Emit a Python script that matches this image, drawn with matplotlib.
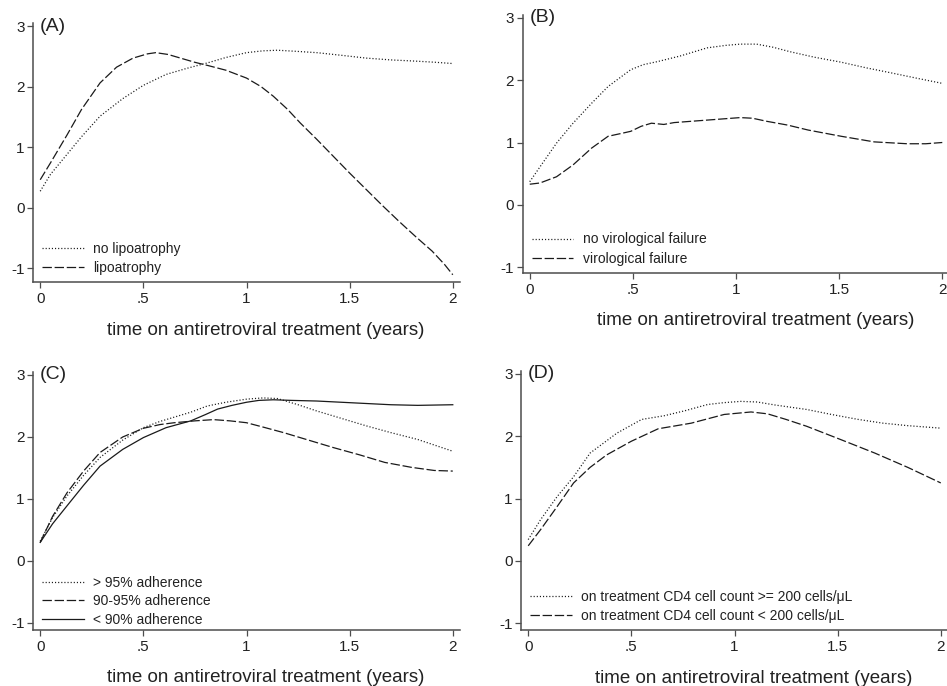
import matplotlib
matplotlib.use("Agg")
import matplotlib.pyplot as plt

plt.rcParams["font.family"] = ["Liberation Sans", "DejaVu Sans"]
plt.rcParams["axes.unicode_minus"] = False

W, H = 947, 686

# panel A
a_x_nolipo = [0.0, 0.05, 0.13, 0.2, 0.29, 0.4, 0.5, 0.61, 0.71, 0.81, 0.9, 1.0, 1.08, 1.15, 1.25, 1.34, 1.45, 1.58, 1.7, 1.82, 1.92, 2.0]
a_y_nolipo = [0.27, 0.55, 0.88, 1.17, 1.51, 1.8, 2.02, 2.2, 2.3, 2.39, 2.48, 2.56, 2.59, 2.6, 2.58, 2.56, 2.52, 2.47, 2.44, 2.42, 2.4, 2.38]
a_x_lipo = [0.0, 0.05, 0.13, 0.2, 0.29, 0.37, 0.45, 0.52, 0.56, 0.62, 0.69, 0.75, 0.81, 0.9, 1.0, 1.07, 1.13, 1.2, 1.26, 1.34, 1.42, 1.5, 1.58, 1.66, 1.74, 1.82, 1.9, 1.96, 2.0]
a_y_lipo = [0.46, 0.74, 1.2, 1.62, 2.06, 2.32, 2.47, 2.54, 2.56, 2.53, 2.46, 2.4, 2.35, 2.27, 2.14, 2.0, 1.84, 1.62, 1.4, 1.13, 0.85, 0.57, 0.3, 0.03, -0.23, -0.48, -0.72, -0.94, -1.11]

# panel B
b_x_novf = [0.0, 0.05, 0.13, 0.21, 0.3, 0.38, 0.49, 0.55, 0.62, 0.73, 0.86, 0.95, 1.02, 1.1, 1.18, 1.26, 1.38, 1.51, 1.63, 1.75, 1.88, 2.0]
b_y_novf = [0.37, 0.61, 0.99, 1.31, 1.63, 1.9, 2.17, 2.25, 2.3, 2.39, 2.52, 2.56, 2.58, 2.58, 2.53, 2.46, 2.37, 2.29, 2.2, 2.12, 2.03, 1.95]
b_x_vf = [0.0, 0.05, 0.13, 0.21, 0.3, 0.38, 0.45, 0.49, 0.54, 0.59, 0.65, 0.7, 0.86, 1.02, 1.08, 1.15, 1.25, 1.35, 1.51, 1.67, 1.83, 1.92, 2.0]
b_y_vf = [0.33, 0.35, 0.45, 0.64, 0.91, 1.1, 1.15, 1.18, 1.26, 1.31, 1.29, 1.32, 1.36, 1.4, 1.39, 1.34, 1.28, 1.2, 1.1, 1.01, 0.98, 0.98, 1.0]

# panel C
c_x_gt95 = [0.0, 0.06, 0.13, 0.21, 0.29, 0.4, 0.5, 0.58, 0.66, 0.73, 0.81, 0.9, 1.0, 1.08, 1.15, 1.25, 1.34, 1.46, 1.58, 1.7, 1.83, 2.0]
c_y_gt95 = [0.32, 0.7, 1.05, 1.38, 1.67, 1.95, 2.15, 2.25, 2.33, 2.4, 2.5, 2.56, 2.61, 2.63, 2.62, 2.52, 2.42, 2.3, 2.18, 2.07, 1.96, 1.77]
c_x_9095 = [0.0, 0.06, 0.13, 0.21, 0.29, 0.4, 0.5, 0.58, 0.65, 0.75, 0.84, 0.92, 1.0, 1.08, 1.18, 1.3, 1.42, 1.55, 1.67, 1.8, 1.91, 2.0]
c_y_9095 = [0.3, 0.72, 1.1, 1.45, 1.75, 2.0, 2.14, 2.2, 2.23, 2.26, 2.28, 2.26, 2.23, 2.16, 2.07, 1.95, 1.83, 1.71, 1.59, 1.51, 1.46, 1.45]
c_x_lt90 = [0.0, 0.06, 0.13, 0.21, 0.29, 0.4, 0.5, 0.61, 0.73, 0.8, 0.86, 0.93, 1.0, 1.06, 1.13, 1.22, 1.34, 1.46, 1.58, 1.7, 1.83, 2.0]
c_y_lt90 = [0.3, 0.6, 0.89, 1.22, 1.53, 1.8, 1.99, 2.15, 2.26, 2.36, 2.45, 2.51, 2.56, 2.59, 2.6, 2.59, 2.58, 2.56, 2.54, 2.52, 2.51, 2.52]

# panel D
d_x_ge200 = [0.0, 0.06, 0.14, 0.22, 0.3, 0.43, 0.55, 0.66, 0.76, 0.87, 0.95, 1.03, 1.11, 1.2, 1.35, 1.47, 1.6, 1.72, 1.84, 2.0]
d_y_ge200 = [0.34, 0.66, 1.03, 1.35, 1.73, 2.05, 2.27, 2.33, 2.41, 2.51, 2.54, 2.56, 2.55, 2.5, 2.43, 2.35, 2.27, 2.21, 2.17, 2.13]
d_x_lt200 = [0.0, 0.06, 0.14, 0.22, 0.3, 0.38, 0.5, 0.63, 0.79, 0.95, 1.08, 1.16, 1.25, 1.35, 1.52, 1.68, 1.84, 2.0]
d_y_lt200 = [0.24, 0.5, 0.87, 1.25, 1.5, 1.7, 1.92, 2.12, 2.21, 2.35, 2.39, 2.36, 2.27, 2.16, 1.94, 1.73, 1.5, 1.25]

x_ticks = [0, 0.5, 1, 1.5, 2]
x_ticklabels = ["0", ".5", "1", "1.5", "2"]
y_ticks = [-1, 0, 1, 2, 3]
x_title = "time on antiretroviral treatment (years)"

DOT = (0.9, 1.6)
DASH = (7.5, 2.2)
LINE_COLOR = "#1a1a1a"
TEXT_COLOR = "#222222"

# (left px, top px, right px, bottom px, ymin, ymax)
panels = {
    "A": (33, 23, 460, 282, -1.23, 3.05),
    "B": (522.5, 15, 949.5, 273, -1.096, 3.048),
    "C": (33, 372, 460, 630, -1.113, 3.048),
    "D": (521, 371, 948, 630, -1.112, 3.048),
}

fig = plt.figure(figsize=(W / 100, H / 100), dpi=100)


def make_axes(key):
    l, t, r, b, y0, y1 = panels[key]
    ax = fig.add_axes([l / W, (H - b) / H, (r - l) / W, (b - t) / H])
    ax.set_xlim(-0.035, 2.035)
    ax.set_ylim(y0, y1)
    for s in ("top", "right"):
        ax.spines[s].set_visible(False)
    for s in ("left", "bottom"):
        ax.spines[s].set_color("#4d4d4d")
        ax.spines[s].set_linewidth(1.1)
    ax.set_xticks(x_ticks)
    ax.set_xticklabels(x_ticklabels)
    ax.set_yticks(y_ticks)
    ax.tick_params(length=4, width=0.9, color="#4d4d4d", labelsize=11, labelcolor=TEXT_COLOR, pad=2)
    ax.tick_params(axis="x", pad=3)
    ax.set_xlabel(x_title, fontsize=13.5, color=TEXT_COLOR)
    ax.xaxis.set_label_coords(0.546, -0.153)
    ax.text(0.0, 3.0, f"({key})", fontsize=14, color=TEXT_COLOR, va="center", ha="left")
    return ax


def draw(ax, x, y, dashes, label):
    if dashes is None:
        ax.plot(x, y, color=LINE_COLOR, lw=0.9, label=label)
    else:
        ax.plot(x, y, color=LINE_COLOR, lw=0.9, dashes=dashes, label=label)


def legend(ax, y=0.0, spacing=0.4):
    ax.legend(loc="lower left", bbox_to_anchor=(0.005, y), frameon=False, fontsize=10,
              handlelength=3.0, handletextpad=0.7, labelspacing=spacing, borderaxespad=0.3,
              borderpad=0.2, labelcolor=TEXT_COLOR)


ax = make_axes("A")
draw(ax, a_x_nolipo, a_y_nolipo, DOT, "no lipoatrophy")
draw(ax, a_x_lipo, a_y_lipo, DASH, "lipoatrophy")
legend(ax)

ax = make_axes("B")
draw(ax, b_x_novf, b_y_novf, DOT, "no virological failure")
draw(ax, b_x_vf, b_y_vf, DASH, "virological failure")
legend(ax)

ax = make_axes("C")
draw(ax, c_x_gt95, c_y_gt95, DOT, "> 95% adherence")
draw(ax, c_x_9095, c_y_9095, DASH, "90-95% adherence")
draw(ax, c_x_lt90, c_y_lt90, None, "< 90% adherence")
legend(ax, y=-0.015, spacing=0.33)

ax = make_axes("D")
draw(ax, d_x_ge200, d_y_ge200, DOT, "on treatment CD4 cell count >= 200 cells/\u03bcL")
draw(ax, d_x_lt200, d_y_lt200, DASH, "on treatment CD4 cell count < 200 cells/\u03bcL")
legend(ax)

fig.savefig("out.png", dpi=100, facecolor="white")
